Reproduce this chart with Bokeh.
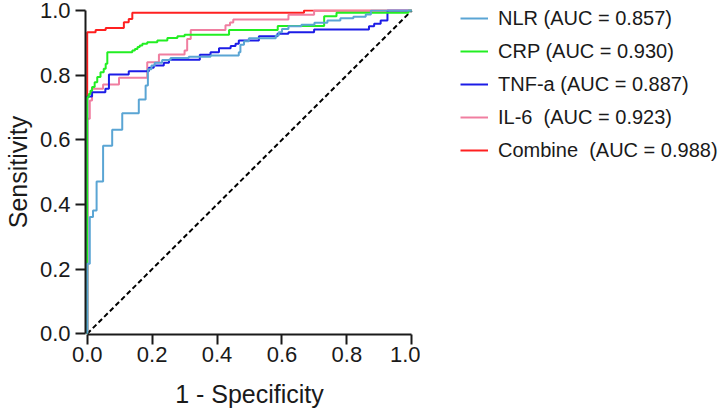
from bokeh.plotting import figure
from bokeh.layouts import row
from bokeh.models import Legend, LegendItem, FixedTicker, PrintfTickFormatter, Range1d
from bokeh.embed import file_html
from bokeh.resources import INLINE

# ROC curve vertices (1 - specificity, sensitivity) for each marker
nlr_fpr = [0, 0, 0.008, 0.008, 0.018, 0.018, 0.029, 0.029, 0.049, 0.049, 0.077, 0.077,
           0.108, 0.108, 0.159, 0.159, 0.180, 0.180, 0.187, 0.187, 0.198, 0.198, 0.208, 0.208,
           0.231, 0.231, 0.257, 0.257, 0.313, 0.313, 0.380, 0.380, 0.467, 0.467, 0.472, 0.472,
           0.483, 0.483, 0.498, 0.498, 0.581, 0.581, 0.590, 0.590, 0.600, 0.600, 0.620, 0.620,
           0.660, 0.660, 0.700, 0.700, 0.740, 0.740, 0.780, 0.780, 0.820, 0.820, 0.858, 0.858,
           0.874, 0.874, 1.0]
nlr_tpr = [0, 0.217, 0.217, 0.361, 0.361, 0.381, 0.381, 0.471, 0.471, 0.582, 0.582, 0.631,
           0.631, 0.682, 0.682, 0.725, 0.725, 0.768, 0.768, 0.818, 0.818, 0.830, 0.830, 0.838,
           0.838, 0.847, 0.847, 0.853, 0.853, 0.857, 0.857, 0.861, 0.861, 0.871, 0.871, 0.894,
           0.894, 0.905, 0.905, 0.914, 0.914, 0.923, 0.923, 0.933, 0.933, 0.943, 0.943, 0.951,
           0.951, 0.956, 0.956, 0.962, 0.962, 0.969, 0.969, 0.976, 0.976, 0.981, 0.981, 0.988,
           0.988, 1.0, 1.0]

crp_fpr = [0, 0, 0.005, 0.005, 0.010, 0.010, 0.015, 0.015, 0.023, 0.023, 0.031, 0.031,
           0.041, 0.041, 0.051, 0.051, 0.057, 0.057, 0.062, 0.062, 0.139, 0.139, 0.147, 0.147,
           0.155, 0.155, 0.162, 0.162, 0.170, 0.170, 0.185, 0.185, 0.216, 0.216, 0.247, 0.247,
           0.278, 0.278, 0.300, 0.300, 0.437, 0.437, 0.587, 0.587, 0.730, 0.730, 0.768, 0.768,
           0.990, 0.990, 1.0]
crp_tpr = [0, 0.732, 0.732, 0.742, 0.742, 0.752, 0.752, 0.763, 0.763, 0.778, 0.778, 0.794,
           0.794, 0.809, 0.809, 0.820, 0.820, 0.835, 0.835, 0.871, 0.871, 0.876, 0.876, 0.881,
           0.881, 0.887, 0.887, 0.892, 0.892, 0.897, 0.897, 0.902, 0.902, 0.907, 0.907, 0.915,
           0.915, 0.920, 0.920, 0.925, 0.925, 0.940, 0.940, 0.952, 0.952, 0.982, 0.982, 0.993,
           0.993, 1.0, 1.0]

tnf_fpr = [0, 0, 0.015, 0.015, 0.056, 0.056, 0.067, 0.067, 0.128, 0.128, 0.190, 0.190,
           0.205, 0.205, 0.236, 0.236, 0.252, 0.252, 0.347, 0.347, 0.380, 0.380, 0.406, 0.406,
           0.442, 0.442, 0.457, 0.457, 0.467, 0.467, 0.529, 0.529, 0.586, 0.586, 0.620, 0.620,
           0.699, 0.699, 0.868, 0.868, 0.884, 0.884, 0.904, 0.904, 0.925, 0.925, 1.0]
tnf_tpr = [0, 0.734, 0.734, 0.747, 0.747, 0.758, 0.758, 0.802, 0.802, 0.812, 0.812, 0.823,
           0.823, 0.830, 0.830, 0.838, 0.838, 0.848, 0.848, 0.863, 0.863, 0.871, 0.871, 0.883,
           0.883, 0.890, 0.890, 0.897, 0.897, 0.907, 0.907, 0.920, 0.920, 0.928, 0.928, 0.933,
           0.933, 0.941, 0.941, 0.951, 0.951, 0.959, 0.959, 0.969, 0.969, 1.0, 1.0]

il6_fpr = [0, 0, 0.008, 0.008, 0.015, 0.015, 0.049, 0.049, 0.098, 0.098, 0.185, 0.185,
           0.221, 0.221, 0.300, 0.300, 0.308, 0.308, 0.319, 0.319, 0.426, 0.426, 0.440, 0.440,
           0.450, 0.450, 0.620, 0.620, 0.699, 0.699, 1.0]
il6_tpr = [0, 0.665, 0.665, 0.722, 0.722, 0.758, 0.758, 0.771, 0.771, 0.792, 0.792, 0.840,
           0.840, 0.864, 0.864, 0.876, 0.876, 0.912, 0.912, 0.940, 0.940, 0.954, 0.954, 0.963,
           0.963, 0.972, 0.972, 0.987, 0.987, 1.0, 1.0]

comb_fpr = [0, 0, 0.026, 0.026, 0.057, 0.057, 0.113, 0.113, 0.128, 0.128, 0.139, 0.139,
            0.668, 0.668, 1.0]
comb_tpr = [0, 0.933, 0.933, 0.940, 0.940, 0.946, 0.946, 0.964, 0.964, 0.974, 0.974, 0.993,
            0.993, 1.0, 1.0]

labels = ["NLR (AUC = 0.857)", "CRP (AUC = 0.930)", "TNF-a (AUC = 0.887)",
          "IL-6  (AUC = 0.923)", "Combine  (AUC = 0.988)"]
colors = ["#5aa5d4", "#22ee22", "#1c1ce6", "#f07ea0", "#ff2020"]
ticks = [0.0, 0.2, 0.4, 0.6, 0.8, 1.0]

FONT = "Liberation Sans"
INK = "#1a1a1a"

# ---- ROC panel ----
p = figure(width=420, height=415, output_backend="svg", toolbar_location=None,
           x_range=Range1d(-0.0052, 1.0052), y_range=Range1d(-0.0022, 1.0031),
           min_border_left=85, min_border_right=7, min_border_top=9, min_border_bottom=81)
p.outline_line_color = None
p.xgrid.visible = False
p.ygrid.visible = False

# chance line
p.line([0, 1], [0, 1], line_color="black", line_width=2, line_dash="5 3")

# draw from bottom to top so NLR ends up on top
series = [(nlr_fpr, nlr_tpr), (crp_fpr, crp_tpr), (tnf_fpr, tnf_tpr),
          (il6_fpr, il6_tpr), (comb_fpr, comb_tpr)]
for idx in [4, 3, 2, 1, 0]:
    fx, fy = series[idx]
    p.line(fx, fy, line_color=colors[idx], line_width=2)

for ax in (p.xaxis, p.yaxis):
    ax.bounds = (0, 1)
    ax.ticker = FixedTicker(ticks=ticks)
    ax.formatter = PrintfTickFormatter(format="%.1f")
    ax.minor_tick_line_color = None
    ax.major_tick_in = 0
    ax.major_tick_out = 10
    ax.major_tick_line_width = 2
    ax.major_tick_line_color = INK
    ax.axis_line_width = 2
    ax.axis_line_color = INK
    ax.major_label_text_font = FONT
    ax.major_label_text_font_size = "22px"
    ax.major_label_text_color = INK
    ax.axis_label_text_font = FONT
    ax.axis_label_text_font_size = "25px"
    ax.axis_label_text_font_style = "normal"
    ax.axis_label_text_color = INK

p.xaxis.axis_label = "1 - Specificity"
p.xaxis.major_label_standoff = 2
p.xaxis.axis_label_standoff = 15
p.yaxis.axis_label = "Sensitivity"
p.yaxis.major_label_standoff = 5
p.yaxis.axis_label_standoff = 5

# ---- legend panel (its frame is aligned with the ROC frame by the row) ----
lg = figure(width=300, height=415, output_backend="svg", toolbar_location=None,
            x_range=Range1d(0, 1), y_range=Range1d(0, 1),
            min_border_left=0, min_border_right=0, min_border_top=0, min_border_bottom=0)
lg.outline_line_color = None
lg.axis.visible = False
lg.grid.visible = False
# off-range key lines: only their legend swatches show
keys = [lg.line([-2, -1], [-2, -2], line_color=c, line_width=2) for c in colors]

legend = Legend(
    items=[LegendItem(label=labels[i], renderers=[keys[i]]) for i in range(5)],
    location=(40, 172), padding=0, spacing=9, margin=0,
    label_height=24, glyph_height=24, glyph_width=28, label_standoff=10,
    label_text_font=FONT, label_text_font_size="20px", label_text_color=INK,
    border_line_color=None, background_fill_alpha=0,
)
lg.add_layout(legend, "center")

layout = row(p, lg, spacing=0)
open("out.html", "w").write(file_html(layout, INLINE))
